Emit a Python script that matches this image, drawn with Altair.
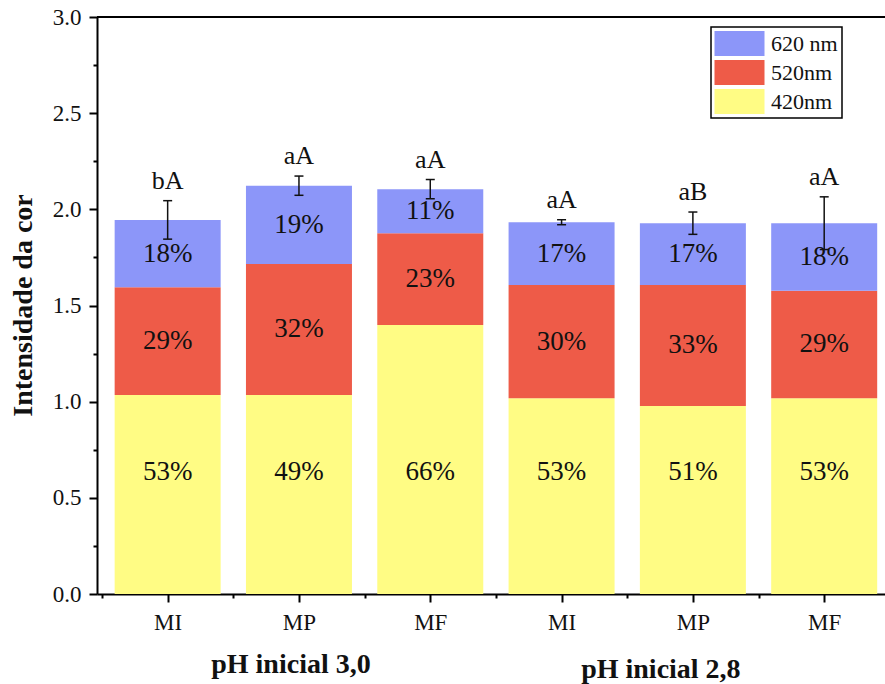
import json

import altair as alt
import pandas as pd

# ---- data -------------------------------------------------------------
categories = ["MI", "MP", "MF", "MI", "MP", "MF"]
group_names = ["pH inicial 3,0", "pH inicial 2,8"]
group_of_bar = [0, 0, 0, 1, 1, 1]
series = ["620 nm", "520nm", "420nm"]          # legend order (top to bottom)
abs_420 = [1.035, 1.035, 1.399, 1.018, 0.978, 1.018]
abs_520 = [0.560, 0.681, 0.477, 0.589, 0.629, 0.559]
abs_620 = [0.350, 0.407, 0.229, 0.326, 0.321, 0.351]
err = [0.100, 0.050, 0.050, 0.013, 0.058, 0.137]
letters = ["bA", "aA", "aA", "aA", "aB", "aA"]

# ---- styling ----------------------------------------------------------
colors = ["#8C96F9", "#EE5B48", "#FFFC84"]
FONT = "Liberation Serif"
INK = "#111111"
PLOT_W, PLOT_H = 788, 577
X_DOMAIN = [0.5, 6.425]
Y_DOMAIN = [0, 3.0]
LOW_LABEL_Y = 0.635          # height of the labels inside the bottom segment
GROUP_DX = [-8, -32]

# ---- tables -----------------------------------------------------------
stack_order = ["420nm", "520nm", "620 nm"]
seg_rows, bar_rows = [], []
for i, cat in enumerate(categories):
    pos = i + 1
    vals = {"420nm": abs_420[i], "520nm": abs_520[i], "620 nm": abs_620[i]}
    total = sum(vals.values())
    base = 0.0
    for k, name in enumerate(stack_order):
        v = vals[name]
        top = base + v
        seg_rows.append(dict(
            pos=pos, series=name, order=k, y0=base, y1=top,
            pct=f"{round(100 * v / total)}%",
            label_y=LOW_LABEL_Y if k == 0 else (base + top) / 2,
        ))
        base = top
    bar_rows.append(dict(pos=pos, total=total, lo=total - err[i],
                         hi=total + err[i], letter=letters[i],
                         group=group_of_bar[i]))

seg = pd.DataFrame(seg_rows)
bars = pd.DataFrame(bar_rows)

x_scale = alt.Scale(domain=X_DOMAIN, nice=False, zero=False)
y_scale = alt.Scale(domain=Y_DOMAIN, nice=False)

cat_js = json.dumps(categories).replace('"', "'")
x_axis = alt.Axis(
    values=[0.5 + 0.5 * k for k in range(12)],
    labelExpr=f"datum.value % 1 == 0 ? {cat_js}[datum.value - 1] : ''",
    title=None, grid=False, domainColor="black", domainWidth=2,
    tickColor="black", tickWidth=2,
    tickSize={"condition": {"test": "datum.value % 1 == 0", "value": 8}, "value": 4},
    labelFont=FONT, labelFontSize=23, labelColor=INK, labelPadding=9,
    labelOverlap=False, labelFlush=False,
)
y_axis = alt.Axis(
    values=[0.25 * k for k in range(13)],
    labelExpr="datum.value % 0.5 == 0 ? format(datum.value, '.1f') : ''",
    title="Intensidade da cor", titleFont=FONT, titleFontSize=28,
    titleFontWeight="bold", titleColor=INK, titleAngle=270,
    titleAlign="center", titleBaseline="alphabetic", titleX=-66, titleY=288,
    grid=False, domainColor="black", domainWidth=2,
    tickColor="black", tickWidth=2,
    tickSize={"condition": {"test": "datum.value % 0.5 == 0", "value": 8}, "value": 4},
    labelFont=FONT, labelFontSize=23, labelColor=INK, labelPadding=8,
    labelOverlap=False, labelFlush=False,
)


def xq(field):
    return alt.X(field, type="quantitative", scale=x_scale, axis=x_axis)


def yq(field):
    return alt.Y(field, type="quantitative", scale=y_scale, axis=y_axis)


stacked = alt.Chart(seg).mark_bar(size=106).encode(
    x=xq("pos"),
    y=yq("y1"),
    y2="y0:Q",
    color=alt.Color(
        "series:N",
        scale=alt.Scale(domain=series, range=colors),
        legend=alt.Legend(
            title=None, orient="none", legendX=614, legendY=10,
            symbolType="M-2,-1L2,-1L2,1L-2,1Z", symbolSize=625,
            symbolOffset=12, symbolStrokeWidth=0, symbolOpacity=1,
            labelFont=FONT, labelFontSize=22, labelColor=INK, labelOffset=19,
            rowPadding=4, padding=4,
            strokeColor="black", fillColor="white",
        ),
    ),
)

pct_text = alt.Chart(seg).mark_text(
    font=FONT, fontSize=27, color=INK, baseline="middle"
).encode(x=xq("pos"), y=yq("label_y"), text="pct:N")

whisker = alt.Chart(bars).mark_rule(color=INK, strokeWidth=1.5).encode(
    x=xq("pos"), y=yq("lo"), y2="hi:Q"
)
cap_lo = alt.Chart(bars).mark_tick(
    orient="horizontal", size=9, thickness=1.5, color=INK, opacity=1
).encode(x=xq("pos"), y=yq("lo"))
cap_hi = alt.Chart(bars).mark_tick(
    orient="horizontal", size=9, thickness=1.5, color=INK, opacity=1
).encode(x=xq("pos"), y=yq("hi"))
sig_letters = alt.Chart(bars).mark_text(
    font=FONT, fontSize=26, color=INK, baseline="bottom", dy=-7
).encode(x=xq("pos"), y=yq("hi"), text="letter:N")

top_border = alt.Chart(pd.DataFrame({"y": [Y_DOMAIN[1]]})).mark_rule(
    color="black", strokeWidth=2
).encode(y=yq("y"))

# group captions under the category labels
group_layers = []
for g, name in enumerate(group_names):
    members = bars[bars["group"] == g]
    gdf = pd.DataFrame({"name": [name], "center": [members["pos"].mean()]})
    group_layers.append(
        alt.Chart(gdf).mark_text(
            font=FONT, fontSize=28, fontWeight="bold", color=INK,
            baseline="alphabetic", align="center", dx=GROUP_DX[g],
        ).encode(
            x=xq("center"),
            y=alt.value(PLOT_H + 79 + 5 * g),
            text="name:N",
        )
    )

chart = alt.layer(
    stacked, pct_text, whisker, cap_lo, cap_hi, sig_letters, top_border,
    *group_layers,
).properties(
    width=PLOT_W, height=PLOT_H,
    autosize=alt.AutoSizeParams(type="none"),
    padding={"left": 97, "top": 17, "right": 0, "bottom": 90},
).configure_view(stroke=None).configure_legend(strokeWidth=1.5)

chart.save("out.html", embed_options={"renderer": "svg", "actions": False})
